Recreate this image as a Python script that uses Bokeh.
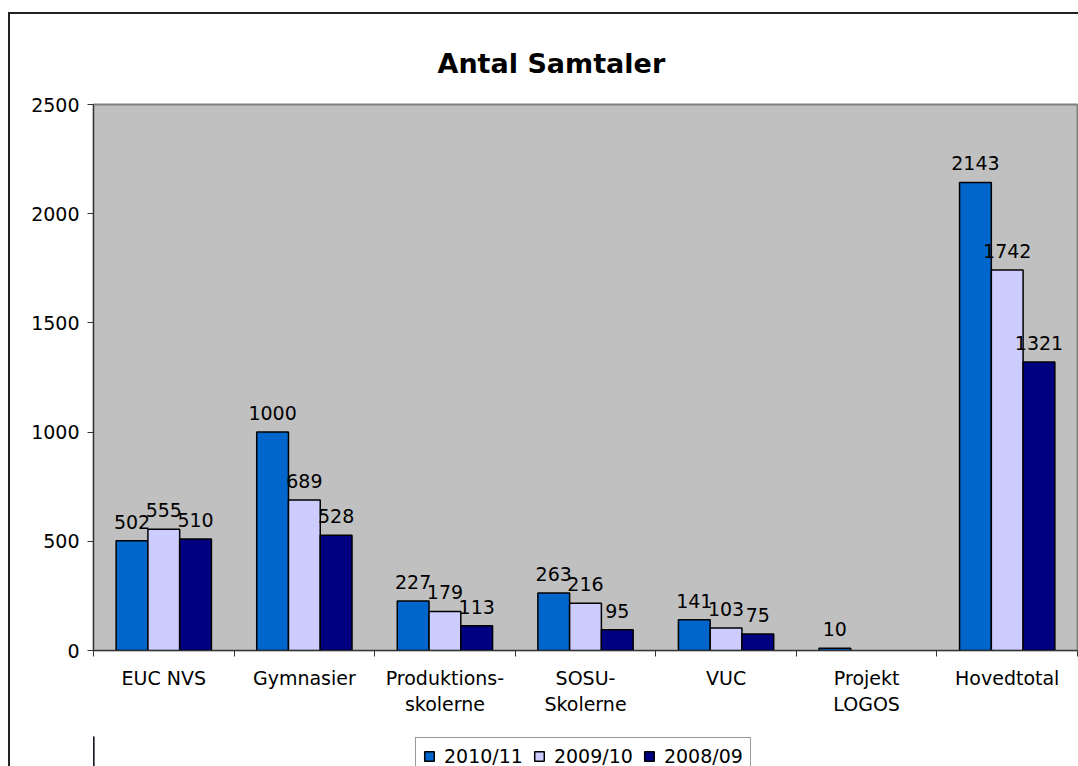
import numpy as np
from bokeh.plotting import figure
from bokeh.layouts import column
from bokeh.models import ColumnDataSource, Range1d, FixedTicker, Legend, LegendItem
from bokeh.transform import dodge
from bokeh.core.properties import value
from bokeh.embed import file_html
from bokeh.resources import INLINE

categories = ["EUC NVS", "Gymnasier", "Produktions-\nskolerne", "SOSU-\nSkolerne",
              "VUC", "Projekt\nLOGOS", "Hovedtotal"]
series_names = ["2010/11", "2009/10", "2008/09"]
v_2010_11 = [502, 1000, 227, 263, 141, 10, 2143]
v_2009_10 = [555, 689, 179, 216, 103, None, 1742]
v_2008_09 = [510, 528, 113, 95, 75, None, 1321]
y_ticks = [0, 500, 1000, 1500, 2000, 2500]

colors = ["#0066CC", "#CCCCFF", "#000080"]
offsets = [-0.226, 0.0, 0.226]
bar_w = 0.226
FONT = "DejaVu Sans"

p = figure(width=1068, height=722, output_backend="svg", toolbar_location=None,
           x_range=Range1d(0, len(categories)), y_range=Range1d(0, 2500),
           min_border_left=83, min_border_top=90, min_border_right=1,
           min_border_bottom=86)
p.background_fill_color = "#C0C0C0"
p.border_fill_color = "white"
p.outline_line_color = "#808080"
p.outline_line_width = 2
p.xgrid.visible = False
p.ygrid.visible = False

p.title.text = "Antal Samtaler"
p.title.text_font = FONT
p.title.text_font_size = "27px"
p.title.text_font_style = "bold"
p.title.text_color = "black"
p.title.align = "left"
p.title.vertical_align = "top"
p.title.offset = 344
p.title.standoff = 48

xc = np.arange(len(categories)) + 0.5
series = [v_2010_11, v_2009_10, v_2008_09]
for name, vals, col, off in zip(series_names, series, colors, offsets):
    xs = [x for x, v in zip(xc, vals) if v is not None]
    ys = [v for v in vals if v is not None]
    src = ColumnDataSource(dict(x=xs, y=ys, t=[str(v) for v in ys]))
    p.vbar(x=dodge("x", off, range=p.x_range), top="y", width=bar_w, source=src,
           fill_color=col, line_color="black", line_width=1.5)
    p.text(x=dodge("x", off, range=p.x_range), y="y", text="t", source=src,
           text_align="center", text_baseline="alphabetic", y_offset=-19,
           text_font=value(FONT), text_font_size="19px", text_color="black")

# axes
p.yaxis.ticker = FixedTicker(ticks=y_ticks)
p.yaxis.major_label_text_font = FONT
p.yaxis.major_label_text_font_size = "19px"
p.yaxis.major_label_text_color = "black"
p.yaxis.major_tick_out = 6
p.yaxis.major_tick_in = 0
p.yaxis.minor_tick_line_color = None
p.yaxis.axis_line_color = "#333333"
p.yaxis.major_tick_line_color = "#333333"
p.yaxis.major_label_standoff = 8

p.xaxis.ticker = FixedTicker(ticks=list(xc), minor_ticks=list(range(len(categories) + 1)))
p.xaxis.major_label_overrides = {float(x): c for x, c in zip(xc, categories)}
p.xaxis.major_label_text_font = FONT
p.xaxis.major_label_text_font_size = "19px"
p.xaxis.major_label_text_color = "black"
p.xaxis.major_tick_out = 0
p.xaxis.major_tick_in = 0
p.xaxis.minor_tick_out = 6
p.xaxis.minor_tick_in = 0
p.xaxis.minor_tick_line_color = "#333333"
p.xaxis.axis_line_color = "#333333"
p.xaxis.major_label_standoff = 10

# legend strip below the chart (its frame is aligned with the main frame)
p2 = figure(width=1068, height=30, output_backend="svg", toolbar_location=None,
            x_axis_location=None, y_axis_location=None,
            x_range=Range1d(0, 1), y_range=Range1d(0, 1),
            min_border_left=83, min_border_right=1, min_border_top=0, min_border_bottom=0)
p2.outline_line_color = None
p2.outline_line_alpha = 0
p2.outline_line_width = 0
p2.background_fill_color = "white"
p2.border_fill_color = "white"
p2.grid.visible = False
p2.axis.visible = False
items = []
for name, col in zip(series_names, colors):
    # off-range proxy glyph so that the legend swatch takes this series' style
    r = p2.vbar(x=[-5], top=[1], width=0.1, fill_color=col, line_color="black",
                line_width=1.5)
    items.append(LegendItem(label=name, renderers=[r]))

legend = Legend(items=items, orientation="horizontal", location=(322, -9))
legend.label_text_font = FONT
legend.label_text_font_size = "19px"
legend.label_text_color = "black"
legend.glyph_width = 12
legend.glyph_height = 12
legend.label_standoff = 9
legend.spacing = 10
legend.padding = 7
legend.margin = 0
legend.border_line_color = "#333333"
legend.border_line_width = 1
legend.background_fill_color = "white"
legend.background_fill_alpha = 1
p2.add_layout(legend, "center")

layout = column(p, p2, spacing=0)
layout.styles = {"margin-left": "8px", "margin-top": "12px",
                 "border-left": "2px solid #222222", "border-top": "2px solid #222222"}

open("out.html", "w").write(file_html(layout, INLINE))
